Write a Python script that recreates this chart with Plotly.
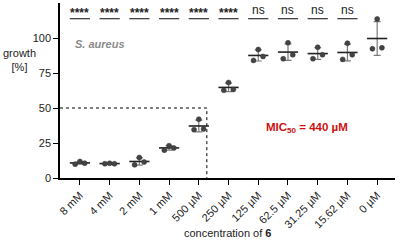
import numpy as np
import plotly.graph_objects as go

categories = ["8 mM", "4 mM", "2 mM", "1 mM", "500 µM", "250 µM", "125 µM",
              "62.5 µM", "31.25 µM", "15.62 µM", "0 µM"]
rep_left = [9.9, 10.2, 9.4, 19.9, 34.5, 62.7, 84.0, 85.2, 85.2, 84.7, 92.3]
rep_mid = [11.8, 10.5, 14.6, 23.1, 42.0, 68.2, 91.8, 96.6, 93.4, 96.3, 113.6]
rep_right = [10.6, 10.2, 11.4, 21.5, 35.0, 63.2, 86.8, 88.0, 88.0, 88.0, 93.0]
significance = ["****", "****", "****", "****", "****", "****", "ns", "ns", "ns", "ns", ""]
mic_x = 4.27
mic_y = 50

reps = np.array([rep_left, rep_mid, rep_right])
means = reps.mean(axis=0)
sds = reps.std(axis=0, ddof=1)
idx = np.arange(len(categories))

FONT = "Liberation Sans, Arial"

fig = go.Figure()

# dotted MIC guide
fig.add_trace(go.Scatter(x=[-0.67, mic_x, mic_x], y=[mic_y, mic_y, 0], mode="lines",
                         line=dict(color="black", width=1, dash="dot"),
                         hoverinfo="skip", showlegend=False))

# error bars (mean ± SD)
fig.add_trace(go.Scatter(x=idx, y=means, mode="markers", marker=dict(size=1, color="rgba(0,0,0,0)"),
                         error_y=dict(type="data", array=sds, visible=True, color="#7a7a7a",
                                      thickness=1.2, width=3.5),
                         showlegend=False, hoverinfo="skip"))

# mean bars
mx, my = [], []
for i, m in zip(idx, means):
    mx += [i - 0.34, i + 0.34, None]
    my += [m, m, None]
fig.add_trace(go.Scatter(x=mx, y=my, mode="lines", line=dict(color="#222222", width=1.6),
                         showlegend=False, hoverinfo="skip"))

# replicate points
offs = [-0.16, 0.0, 0.16]
for o, r in zip(offs, [rep_left, rep_mid, rep_right]):
    fig.add_trace(go.Scatter(x=idx + o, y=r, mode="markers",
                             marker=dict(size=5, color="#444444", line=dict(color="#333333", width=0.5)),
                             showlegend=False, hoverinfo="skip"))

# significance lines and labels
sx, sy = [], []
for i, s in zip(idx, significance):
    if s:
        sx += [i - 0.34, i + 0.34, None]
        sy += [113.8, 113.8, None]
        is_star = s.startswith("*")
        fig.add_annotation(x=i, y=117.8 if is_star else 120.0,
                           text=f"<b>{s}</b>" if is_star else s, showarrow=False,
                           xref="x", yref="y", yanchor="middle",
                           font=dict(family=FONT, size=12, color="#222222"))
fig.add_trace(go.Scatter(x=sx, y=sy, mode="lines", line=dict(color="#333333", width=1.2),
                         showlegend=False, hoverinfo="skip"))

fig.add_annotation(x=-0.24, y=96, xref="x", yref="y", text="<b><i>S. aureus</i></b>", showarrow=False,
                   xanchor="left", yanchor="middle",
                   font=dict(family=FONT, size=11, color="#8a8a8a"))
fig.add_annotation(x=7.64, y=35.5, xref="x", yref="y", text="<b>MIC<sub>50</sub> = 440 µM</b>",
                   showarrow=False, yanchor="middle",
                   font=dict(family=FONT, size=11.5, color="#cc1111"))
fig.add_annotation(x=-0.122, y=84.5, xref="paper", yref="y", text="growth<br>[%]", showarrow=False,
                   xanchor="center", yanchor="middle",
                   font=dict(family=FONT, size=11, color="#222222"))
fig.add_annotation(x=0.5, y=-0.314, xref="paper", yref="paper", text="concentration of <b>6</b>",
                   showarrow=False, xanchor="center", yanchor="middle",
                   font=dict(family=FONT, size=11, color="#222222"))

fig.update_layout(
    width=400, height=241,
    margin=dict(l=60, r=5, t=3, b=63, autoexpand=False),
    paper_bgcolor="white", plot_bgcolor="white",
    font=dict(family=FONT, size=11, color="#222222"),
    xaxis=dict(range=[-0.67, 10.6], tickmode="array", tickvals=list(idx), ticktext=categories,
               tickangle=-45, showline=True, linecolor="black", linewidth=1.5,
               ticks="outside", ticklen=5, tickwidth=1.3, tickcolor="black",
               tickfont=dict(size=11), automargin=False,
               showgrid=False, zeroline=False),
    yaxis=dict(range=[0, 125], tickvals=[0, 25, 50, 75, 100], showline=True, linecolor="black",
               linewidth=1.5, ticks="outside", ticklen=5, tickwidth=1.3, tickcolor="black",
               tickfont=dict(size=11), automargin=False,
               showgrid=False, zeroline=False),
)

fig.write_html("out.html")
